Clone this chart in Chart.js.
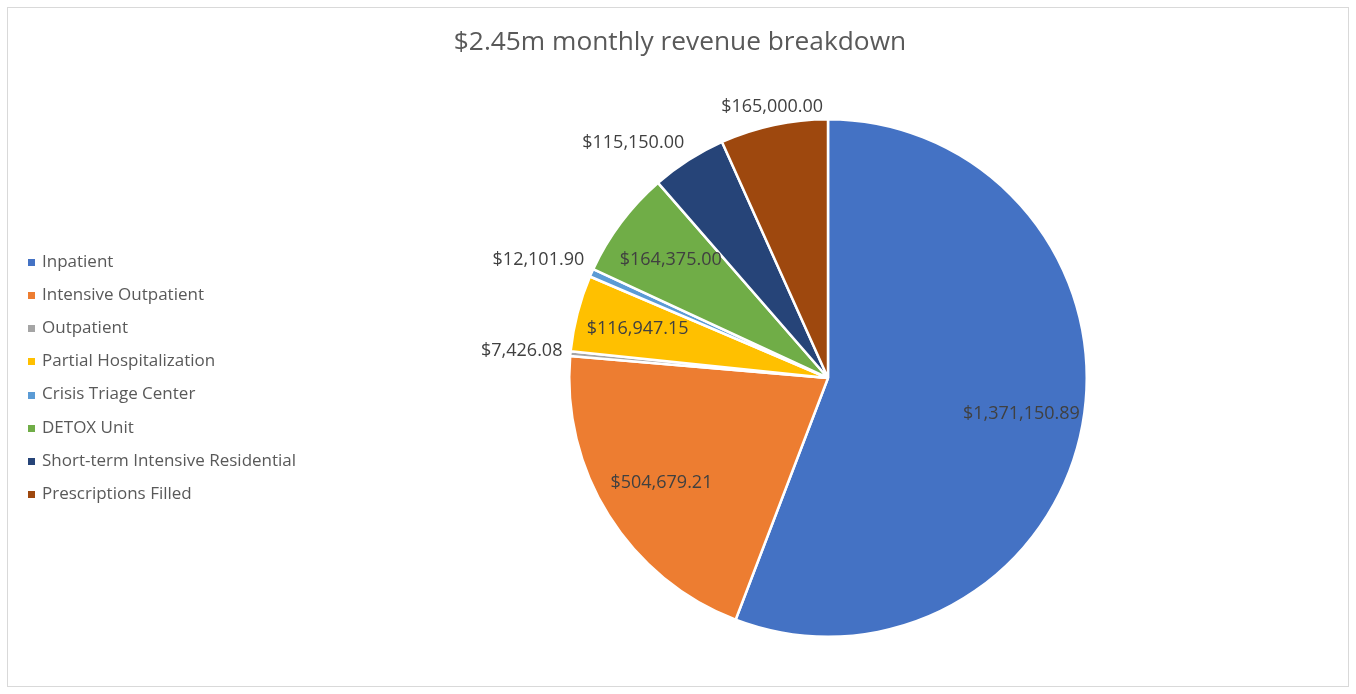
<!DOCTYPE html>
<html>
<head>
<meta charset="utf-8">
<script src="https://cdn.jsdelivr.net/npm/chart.js@4.4.1/dist/chart.umd.min.js"></script>
<style>
    html, body { margin: 0; padding: 0; background: #fff; }
    canvas { display: block; }
</style>
</head>
<body>
<canvas id="pie" width="1356" height="694"></canvas>
<script>
const categories = [
    "Inpatient",
    "Intensive Outpatient",
    "Outpatient",
    "Partial Hospitalization",
    "Crisis Triage Center",
    "DETOX Unit",
    "Short-term Intensive Residential",
    "Prescriptions Filled"
];
const revenue = [1371150.89, 504679.21, 7426.08, 116947.15, 12101.90, 164375.00, 115150.00, 165000.00];
const chartTitle = "$2.45m monthly revenue breakdown";

const sliceColors = ["#4472C4", "#ED7D31", "#A5A5A5", "#FFC000", "#5B9BD5", "#70AD47", "#264478", "#9E480E"];
const textColor = "#404040";
const fontFamily = "'Open Sans', 'Noto Sans', sans-serif";

function money(v) {
    return "$" + v.toLocaleString("en-US", { minimumFractionDigits: 2, maximumFractionDigits: 2 });
}

function isDark(hex) {
    const n = parseInt(hex.slice(1), 16);
    const r = (n >> 16) & 255, g = (n >> 8) & 255, b = n & 255;
    return (0.299 * r + 0.587 * g + 0.114 * b) < 100;
}

const clamp = (v, lo, hi) => Math.max(lo, Math.min(hi, v));

// white background, thin frame, title and legend (drawn by hand so the pie can sit off-centre)
const framePlugin = {
    id: "frame",
    beforeDraw(chart) {
        const c = chart.ctx;
        c.save();
        c.fillStyle = "#fff";
        c.fillRect(0, 0, chart.width, chart.height);
        c.strokeStyle = "#d9d9d9";
        c.lineWidth = 1;
        c.strokeRect(7.5, 7.5, chart.width - 15, chart.height - 15);
        c.restore();
    },
    afterDraw(chart) {
        const c = chart.ctx;
        c.save();
        c.fillStyle = "#595959";
        c.font = "26.3px " + fontFamily;
        c.textAlign = "center";
        c.textBaseline = "alphabetic";
        c.fillText(chartTitle, 680, 50);

        c.font = "17px " + fontFamily;
        c.textAlign = "left";
        c.textBaseline = "middle";
        chart.data.labels.forEach((name, i) => {
            const y = 262 + i * 33.15;
            c.fillStyle = sliceColors[i];
            c.fillRect(28, Math.round(y) - 3, 7, 7);
            c.fillStyle = "#595959";
            c.fillText(name, 42, y);
        });
        c.restore();
    }
};

// value labels: inside for big light slices, outside (excel "best fit" style) for tiny or dark ones
const valueLabels = {
    id: "valueLabels",
    afterDatasetsDraw(chart) {
        const c = chart.ctx;
        const meta = chart.getDatasetMeta(0);
        const data = chart.data.datasets[0].data;
        const total = data.reduce((s, v) => s + v, 0);
        c.save();
        c.font = "18px " + fontFamily;
        c.fillStyle = textColor;
        c.textAlign = "center";
        c.textBaseline = "middle";
        meta.data.forEach((arc, i) => {
            const p = arc.getProps(["x", "y", "startAngle", "endAngle", "outerRadius"], true);
            const mid = (p.startAngle + p.endAngle) / 2;
            const dx = Math.cos(mid), dy = Math.sin(mid);
            const text = money(data[i]);
            const frac = data[i] / total;
            let x, y;
            if (frac < 0.02 || isDark(sliceColors[i])) {
                const hw = c.measureText(text).width / 2, hh = 10;
                const ax = p.x + dx * (p.outerRadius + 8);
                const ay = p.y + dy * (p.outerRadius + 8);
                x = ax + Math.sign(dx) * hw * clamp((Math.abs(dx) - 0.25) / 0.25, 0, 1);
                y = ay + hh * clamp(dy / 0.4, -1, 1);
            } else {
                x = p.x + dx * p.outerRadius * 0.76;
                y = p.y + dy * p.outerRadius * 0.76;
            }
            c.fillText(text, x, y);
        });
        c.restore();
    }
};

const ctx = document.getElementById("pie").getContext("2d");
new Chart(ctx, {
    type: "pie",
    data: {
        labels: categories,
        datasets: [{
            data: revenue,
            backgroundColor: sliceColors,
            borderColor: "#fff",
            borderWidth: 2.5
        }]
    },
    options: {
        responsive: false,
        animation: false,
        layout: { padding: { left: 568, right: 268, top: 118, bottom: 56 } },
        plugins: {
            legend: { display: false },
            title: { display: false },
            tooltip: { enabled: false }
        }
    },
    plugins: [framePlugin, valueLabels]
});
</script>
</body>
</html>
